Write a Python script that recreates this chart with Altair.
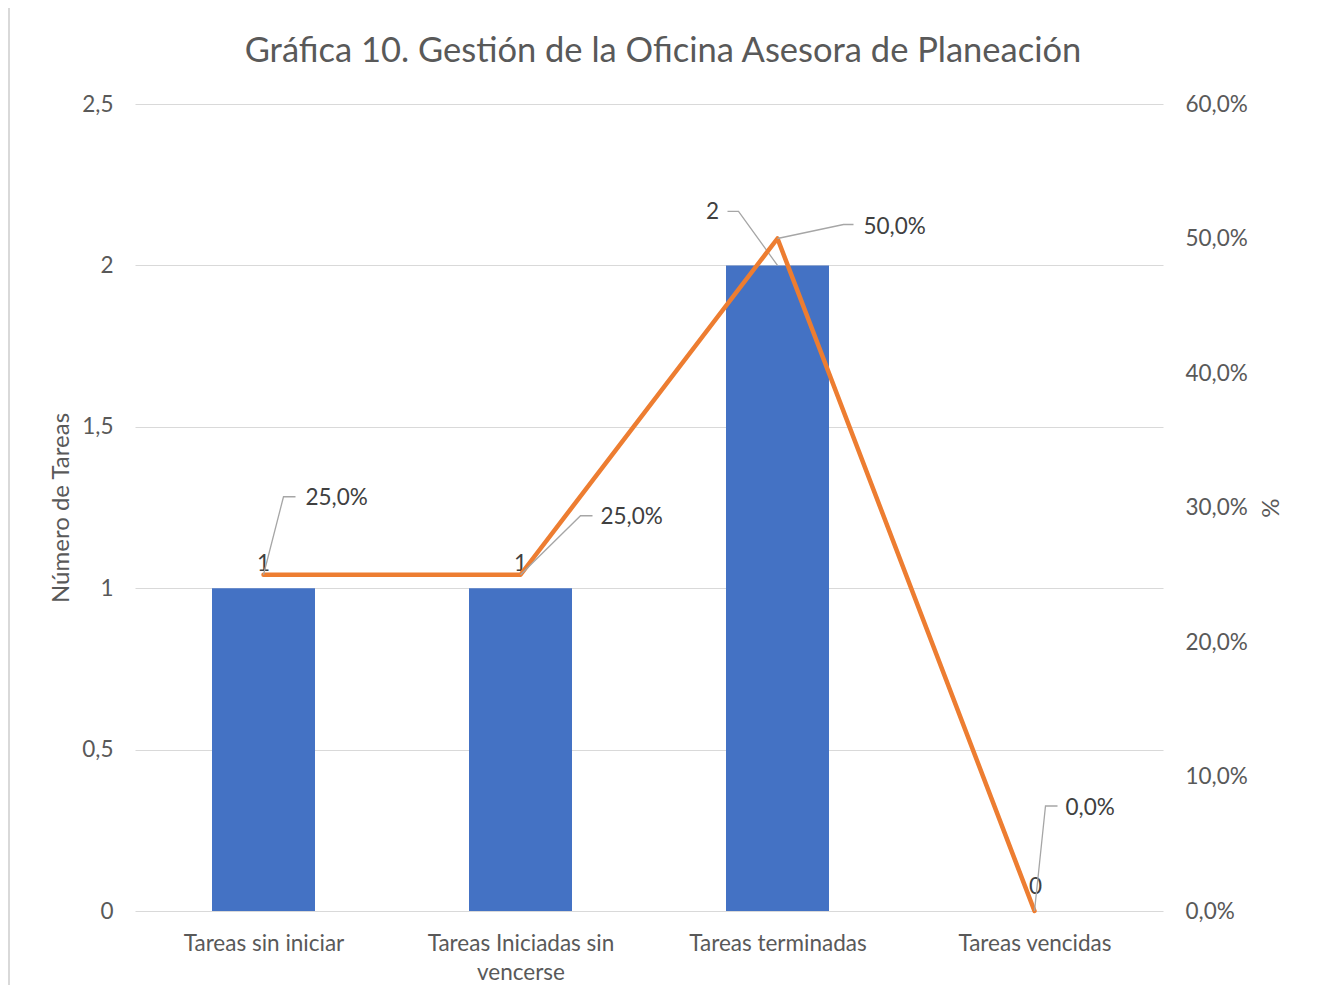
import json
import textwrap
import altair as alt
import pandas as pd

# ---- data ----
categories = ["Tareas sin iniciar", "Tareas Iniciadas sin vencerse", "Tareas terminadas", "Tareas vencidas"]
counts = [1, 1, 2, 0]
pcts = [0.25, 0.25, 0.50, 0.0]
title_text = "Gráfica 10. Gestión de la Oficina Asesora de Planeación"

# ---- layout (pixel offsets of data labels / leader lines, Excel-like) ----
W, H = 1028, 807
XU = W / 4.0          # px per category step
YL = H / 2.5          # px per task
YR = H / 0.6          # px per 100%
bar_label_off = [(0, 24), (0, 24), (-65, 53), (1, 24)]
bar_leader_pts = {2: [(0, 0), (-39, 54), (-50, 54)]}
pct_label_off = [(42, 77), (80, 58), (86, 12), (31, 103)]
pct_leader_pts = {
    0: [(0, 0), (20, 78), (32, 78)],
    1: [(0, 0), (60, 59), (72, 59)],
    2: [(0, 0), (66, 14), (76, 14)],
    3: [(0, 0), (11, 105), (23, 105)],
}

idx = list(range(len(categories)))
bars_df = pd.DataFrame({"x": idx, "v": counts, "cat": categories})
line_df = pd.DataFrame({"x": idx, "v": pcts, "cat": categories})

bar_lab_df = pd.DataFrame({
    "x": [i + bar_label_off[i][0] / XU for i in idx],
    "v": [counts[i] + bar_label_off[i][1] / YL for i in idx],
    "t": [str(c) for c in counts],
})
pct_lab_df = pd.DataFrame({
    "x": [i + pct_label_off[i][0] / XU for i in idx],
    "v": [pcts[i] + pct_label_off[i][1] / YR for i in idx],
    "t": [f"{p * 100:.1f}".replace(".", ",") + "%" for p in pcts],
})

def leaders(pts, base, unit):
    rows = []
    for i, plist in pts.items():
        for s, (dx, up) in enumerate(plist):
            rows.append({"id": i, "seq": s, "x": i + dx / XU, "v": base[i] + up / unit})
    return pd.DataFrame(rows)

bar_lead_df = leaders(bar_leader_pts, counts, YL)
pct_lead_df = leaders(pct_leader_pts, pcts, YR)

wrapped = [textwrap.wrap(c, 22) for c in categories]
label_expr = json.dumps(wrapped) + "[datum.value]"

FONT = "Lato"
GRAY = "#595959"
DARK = "#404040"
LEAD = "#A6A6A6"
FS = 22.5

xscale = alt.Scale(domain=[-0.5, 3.5], nice=False, zero=False, padding=0)
yl_scale = alt.Scale(domain=[0, 2.5], nice=False, padding=0)
yr_scale = alt.Scale(domain=[0, 0.6], nice=False, padding=0)

x_axis = alt.Axis(values=idx, labelExpr=label_expr, title=None, grid=False, ticks=False,
                  domain=False, labelFontSize=FS, labelColor=GRAY, labelPadding=21,
                  labelLineHeight=29, labelOverlap=False, labelFlush=False, labelBaseline="top",
                  labelLimit=400)
x_enc = alt.X("x:Q", scale=xscale, axis=x_axis)
x_plain = alt.X("x:Q", scale=xscale)

border = alt.Chart(pd.DataFrame({"a": [0]})).mark_rect(
    fillOpacity=0, stroke="#D9D9D9", strokeWidth=2
).encode(x=alt.value(-126), x2=alt.value(W + 200), y=alt.value(-97), y2=alt.value(H + 200))

title_mark = alt.Chart(pd.DataFrame({"t": [title_text]})).mark_text(
    font=FONT, fontSize=34.5, color=GRAY, align="center", baseline="alphabetic"
).encode(x=alt.value(W / 2 + 14), y=alt.value(-42), text="t:N")

bars = alt.Chart(bars_df).mark_bar(color="#4472C4", size=103).encode(
    x=x_enc,
    y=alt.Y("v:Q", scale=yl_scale, axis=alt.Axis(
        orient="left", values=[0, 0.5, 1, 1.5, 2, 2.5],
        labelExpr="replace(toString(datum.value), '.', ',')",
        title="Número de Tareas", titleFontSize=24, titleFontWeight="normal", titleColor=GRAY,
        titlePadding=8, labelFontSize=FS, labelColor=GRAY, labelPadding=22,
        grid=True, gridColor="#D9D9D9", gridWidth=1.2, ticks=False, domain=False)),
)

bar_leads = alt.Chart(bar_lead_df).mark_line(color=LEAD, strokeWidth=1.3).encode(
    x=x_plain, y=alt.Y("v:Q", scale=yl_scale), detail="id:N", order="seq:Q")

bar_labels = alt.Chart(bar_lab_df).mark_text(
    font=FONT, fontSize=FS, color=DARK, align="center", baseline="middle"
).encode(x=x_plain, y=alt.Y("v:Q", scale=yl_scale), text="t:N")

line = alt.Chart(line_df).mark_line(color="#ED7D31", strokeWidth=4.5, strokeCap="round",
                                    strokeJoin="round").encode(
    x=x_plain,
    y=alt.Y("v:Q", scale=yr_scale, axis=alt.Axis(
        orient="right", values=[0, 0.1, 0.2, 0.3, 0.4, 0.5, 0.6],
        labelExpr="replace(format(datum.value * 100, '.1f'), '.', ',') + '%'",
        title="%", titleFontSize=24, titleFontWeight="normal", titleColor=GRAY,
        titlePadding=9, labelFontSize=FS, labelColor=GRAY, labelPadding=22,
        grid=False, ticks=False, domain=False)),
)

pct_leads = alt.Chart(pct_lead_df).mark_line(color=LEAD, strokeWidth=1.3).encode(
    x=x_plain, y=alt.Y("v:Q", scale=yr_scale), detail="id:N", order="seq:Q")

pct_labels = alt.Chart(pct_lab_df).mark_text(
    font=FONT, fontSize=FS, color=DARK, align="left", baseline="middle"
).encode(x=x_plain, y=alt.Y("v:Q", scale=yr_scale), text="t:N")

left = alt.layer(bars, bar_leads, bar_labels, border, title_mark)
right = alt.layer(line, pct_leads, pct_labels)

chart = alt.layer(left, right).resolve_scale(y="independent").properties(
    width=W, height=H,
    autosize=alt.AutoSizeParams(type="none"),
    padding={"left": 127, "top": 96, "right": 147, "bottom": 74},
).configure(font=FONT).configure_view(stroke=None)

chart.save("out.html", embed_options={"renderer": "svg", "actions": False})
